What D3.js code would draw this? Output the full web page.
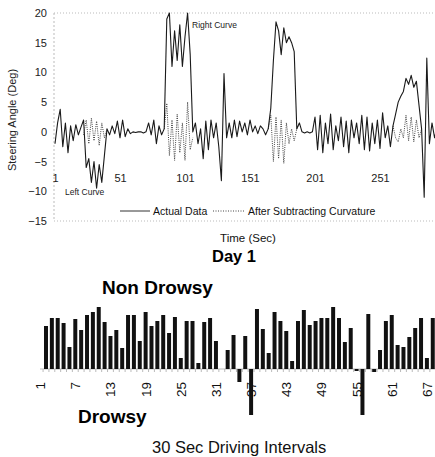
<!DOCTYPE html>
<html><head><meta charset="utf-8">
<script src="https://cdn.jsdelivr.net/npm/d3@7"></script>
<style>body{margin:0;background:#fff} svg{display:block} text{font-family:"Liberation Sans",Arial,sans-serif}</style>
</head><body><svg id="c" width="435" height="457"></svg>
<script>
// ---- Top chart data (sampled every 2 s, starting at 1 s) ----
const sampleStart = 1, sampleStep = 2;
const actualData = [
 -2, 1.5, 3.8, -2.5, 1.5, -3.5, 1, -1.5, 1.2, -0.5,
 0.8, 2, -6, -4.5, -8.5, -5, -9.5, -5.5, -8.5, -4,
 0.5, -0.5, 1, -0.3, 1.8, -1, 2, -0.8, 0.5, -0.3,
 0, -0.1, 0, 0, -0.2, 0, 1.5, -0.5, 2, -2,
 1, -0.5, 0.5, 19, 20, 11, 17, 12, 18, 11,
 16, 20, 13, 0, 1.5, -2, 0.5, -4.5, 1.8, -3,
 2, -1, 1.5, -2.5, -8.2, 9.8, -1, 1.5, -1, 2,
 -0.8, 1.8, 0, 1.5, -0.5, 2, 0, 1, -0.3, 1,
 0.5, -0.5, 0.5, 4, 12, 18.5, 17, 13, 17.5, 15,
 16, 15, 13.5, 0.5, 1.5, 0, -0.2, 0, -0.2, 0,
 2.5, -3, 2.8, -3.5, 1.5, -2, 3, -3, 1, -1.5,
 2.5, -2.5, 1.8, -3.5, 2, -1, 1.5, -2, 2.8, -3,
 2.5, -3.2, 1.5, -2, 2, -2.8, 3.2, -1, 1, -2.5,
 1, 3, 5, 6, 6.8, 9, 8, 9.5, 7.5, 8.5,
 4.5, 0.5, -11, 12.4, -2, 1.5, -1, 1
];
const _ = null;
const afterCurvature = [
 _, _, _, _, _, _, _, _, _, _,
 _, -0.5, 2, -2, 2.3, -1.5, 1.8, -2.3, 1.5, -1,
 0.5, _, _, _, _, _, _, _, _, _,
 _, _, _, _, _, _, _, _, _, _,
 _, _, 0.5, 4.8, -4, 2, -4.8, 3, -3.5, 1.5,
 -4.8, 5, -3, -1, _, _, _, _, _, _,
 _, _, _, _, _, _, _, _, _, _,
 _, _, _, _, _, _, _, _, _, _,
 _, _, 0.5, 2.8, -5, 2.5, -4.5, 2, -5.3, 1.5,
 -2, 0.5, -1.5, 0.5, 1.5, _, _, _, _, _,
 _, _, _, _, _, _, _, _, _, _,
 _, _, _, _, _, _, _, _, _, _,
 _, _, _, _, _, _, _, _, _, _,
 1, -1, -1.7, 0.5, -1, 2.8, -1.5, 2.5, -1.7, 2,
 -1, 0.5, _, _, _, _, _, _
];
const timeTicks = [1, 51, 101, 151, 201, 251];
const angleTicks = [20, 15, 10, 5, 0, -5, -10, -15];

// ---- Bottom chart data ----
const intervals = d3.range(1, 68);
const intervalValues = [
 43, 51, 51, 46, 22, 50, 39, 54, 57, 62,
 47, 33, 39, 21, 54, 54, 28, 57, 43, 48,
 54, 36, 52, 11, 48, 48, 6, 47, 51, 28,
 0, 19, 34, -13, 33, -46, 60, 40, 16, 57,
 48, 38, 8, 48, 59, 44, 48, 51, 51, 62,
 51, 27, 41, -2, -46, 55, -3, 19, 48, 54,
 24, 22, 32, 41, 51, 11, 51
];
const intervalTicks = [1, 7, 13, 19, 25, 31, 37, 43, 49, 55, 61, 67];

const seconds = actualData.map((d, i) => sampleStart + i * sampleStep);

const svg = d3.select('#c');

// ===== Top chart =====
const xT = d3.scaleLinear().domain([1, 295]).range([55, 437.2]);
const yT = d3.scaleLinear().domain([-15, 20]).range([221, 13]);

[20, -15].forEach(v => {
  svg.append('line').attr('x1', 54).attr('x2', 435)
    .attr('y1', yT(v)).attr('y2', yT(v))
    .attr('stroke', '#bbb').attr('stroke-dasharray', '1,2');
});
svg.append('line').attr('x1', 54).attr('x2', 54)
  .attr('y1', yT(20)).attr('y2', yT(-15))
  .attr('stroke', '#bbb').attr('stroke-dasharray', '2,2');

const yAx = svg.append('g').attr('transform', 'translate(54,0)')
  .call(d3.axisLeft(yT).tickValues(angleTicks).tickSize(0).tickPadding(7));
yAx.select('.domain').remove();
yAx.selectAll('text').attr('font-size', 11).attr('fill', '#222')
  .attr('font-family', '"Liberation Sans",Arial,sans-serif');

const xAx = svg.append('g').attr('transform', 'translate(0,171)')
  .call(d3.axisBottom(xT).tickValues(timeTicks).tickSize(0).tickPadding(3));
xAx.select('.domain').remove();
xAx.selectAll('text').attr('font-size', 11).attr('fill', '#222')
  .attr('font-family', '"Liberation Sans",Arial,sans-serif');

const lineGen = d3.line()
  .defined(d => d != null)
  .x((d, i) => xT(seconds[i]))
  .y(d => yT(d));

svg.append('path').datum(afterCurvature).attr('d', lineGen)
  .attr('fill', 'none').attr('stroke', '#444').attr('stroke-width', 1)
  .attr('stroke-dasharray', '1,1.2');
svg.append('path').datum(actualData).attr('d', lineGen)
  .attr('fill', 'none').attr('stroke', '#1a1a1a').attr('stroke-width', 1.1)
  .attr('stroke-linejoin', 'round');

svg.append('text').attr('transform', 'translate(16,120) rotate(-90)')
  .attr('text-anchor', 'middle').attr('font-size', 11).attr('fill', '#222')
  .text('Steering Angle (Deg)');

svg.append('text').attr('x', 192).attr('y', 28).attr('font-size', 8.5).attr('fill', '#222').text('Right Curve');
svg.append('text').attr('x', 65).attr('y', 195).attr('font-size', 8.5).attr('fill', '#222').text('Left Curve');

// legend
svg.append('line').attr('x1', 120).attr('x2', 150).attr('y1', 211).attr('y2', 211)
  .attr('stroke', '#333').attr('stroke-width', 1);
svg.append('text').attr('x', 153).attr('y', 215).attr('font-size', 10.5).attr('fill', '#111').text('Actual Data');
svg.append('line').attr('x1', 213).attr('x2', 245).attr('y1', 211).attr('y2', 211)
  .attr('stroke', '#444').attr('stroke-width', 1).attr('stroke-dasharray', '1,1.5');
svg.append('text').attr('x', 248).attr('y', 215).attr('font-size', 10.5).attr('fill', '#111').text('After Subtracting Curvature');

svg.append('text').attr('x', 248).attr('y', 242).attr('text-anchor', 'middle')
  .attr('font-size', 11.5).attr('fill', '#111').text('Time (Sec)');
svg.append('text').attr('x', 234).attr('y', 262).attr('text-anchor', 'middle')
  .attr('font-size', 16.5).attr('font-weight', 'bold').attr('fill', '#000').text('Day 1');

// ===== Bottom chart =====
const xB = d3.scaleBand().domain(intervals).range([43.07, 435.7])
  .paddingInner(0.32).paddingOuter(0.16);
const yB = d3.scaleLinear().domain([-50, 65]).range([419, 304]);

svg.append('line').attr('x1', 40).attr('x2', 435).attr('y1', yB(0)).attr('y2', yB(0))
  .attr('stroke', '#bbb').attr('stroke-width', 1);
svg.append('g').selectAll('line').data(intervals).join('line')
  .attr('x1', d => xB(d) - xB.step() * 0.16).attr('x2', d => xB(d) - xB.step() * 0.16)
  .attr('y1', yB(0)).attr('y2', yB(0) + 3)
  .attr('stroke', '#aaa').attr('stroke-width', 0.8);

svg.append('g').selectAll('rect').data(intervals).join('rect')
  .attr('x', d => xB(d))
  .attr('width', xB.bandwidth())
  .attr('y', (d, i) => yB(Math.max(0, intervalValues[i])))
  .attr('height', (d, i) => Math.abs(yB(intervalValues[i]) - yB(0)))
  .attr('fill', '#111');

svg.append('g').selectAll('text').data(intervalTicks).join('text')
  .attr('transform', d => `translate(${xB(d) + xB.bandwidth() / 2 - 5},382) rotate(-90)`)
  .attr('text-anchor', 'end').attr('dy', '0.3em')
  .attr('font-size', 13.5).attr('fill', '#111').text(d => d);

svg.append('text').attr('x', 102).attr('y', 294).attr('font-size', 19)
  .attr('font-weight', 'bold').attr('fill', '#000').text('Non Drowsy');
svg.append('text').attr('x', 78).attr('y', 423).attr('font-size', 19)
  .attr('font-weight', 'bold').attr('fill', '#000').text('Drowsy');
svg.append('text').attr('x', 152).attr('y', 453).attr('font-size', 16.5)
  .attr('fill', '#111').text('30 Sec Driving Intervals');
</script>
</body></html>
